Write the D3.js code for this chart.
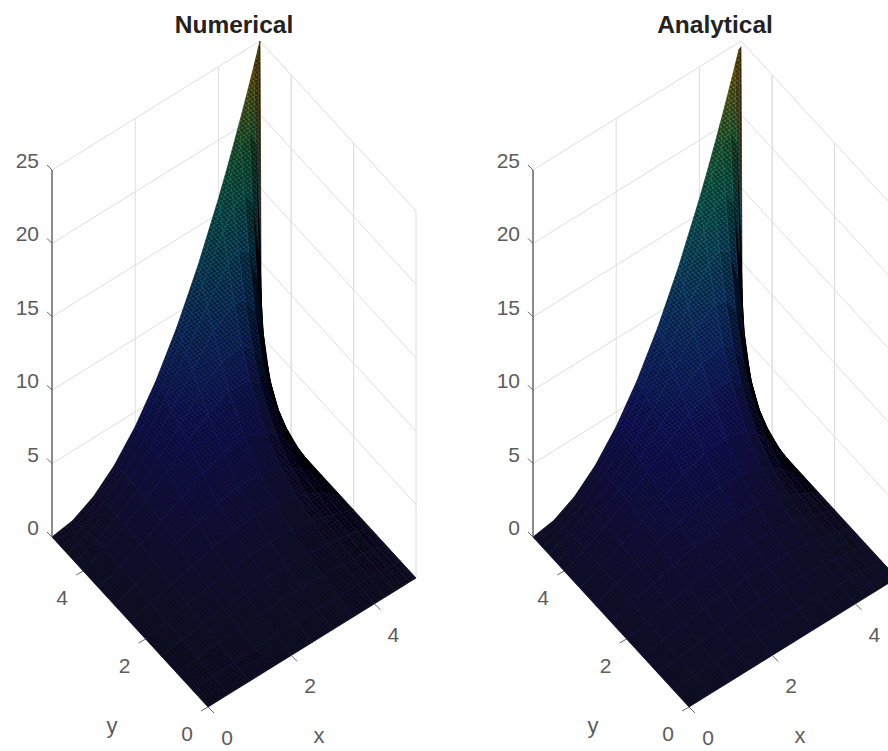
<!DOCTYPE html>
<html>
<head>
<meta charset="utf-8">
<title>Numerical and Analytical surfaces</title>
<script src="https://d3js.org/d3.v7.min.js"></script>
<style>
    body { margin: 0; background: #fff; overflow: hidden; }
    text { font-family: "Liberation Sans", Arial, sans-serif; fill: #5c5c5c; }
</style>
</head>
<body>
<script>

// Mesh positions on the x and y axes (tighter toward the spike)
var gridX = [0, 0.5, 1, 1.5, 2, 2.5, 3, 3.5, 4, 4.25, 4.5, 4.7, 4.85, 4.95, 5];
var gridY = [0, 0.5, 1, 1.5, 2, 2.5, 3, 3.5, 4, 4.25, 4.5, 4.7, 4.85, 4.95, 5];

// Surface height, one row per gridY value, one column per gridX value
var zValues = [
    [0, 0, 0, 0, 0, 0, 0, 0, 0, 0, 0, 0, 0, 0, 0],
    [0, .07, .14, .19, .24, .26, .26, .23, .17, .14, .09, .06, .03, .01, 0],
    [0, .14, .28, .40, .49, .55, .55, .49, .37, .29, .20, .12, .06, .02, 0],
    [0, .22, .44, .63, .79, .89, .90, .82, .62, .49, .34, .21, .10, .03, 0],
    [0, .31, .62, .90, 1.14, 1.31, 1.35, 1.25, .97, .77, .53, .32, .16, .05, 0],
    [0, .41, .82, 1.22, 1.57, 1.84, 1.96, 1.86, 1.48, 1.18, .83, .51, .26, .09, 0],
    [0, .51, 1.04, 1.57, 2.09, 2.53, 2.80, 2.76, 2.29, 1.87, 1.32, .82, .41, .14, 0],
    [0, .60, 1.23, 1.93, 2.67, 3.38, 3.93, 4.11, 3.63, 3.04, 2.21, 1.39, .71, .24, 0],
    [0, .63, 1.36, 2.24, 3.26, 4.37, 5.41, 6.12, 5.97, 5.28, 4.05, 2.63, 1.36, .46, 0],
    [0, .62, 1.39, 2.36, 3.56, 4.91, 6.30, 7.44, 7.73, 7.16, 5.75, 3.87, 2.04, .70, 0],
    [0, .57, 1.34, 2.41, 3.77, 5.42, 7.21, 8.95, 10.03, 9.85, 8.59, 6.22, 3.46, 1.19, 0],
    [0, .48, 1.25, 2.40, 3.91, 5.78, 7.95, 10.26, 12.25, 12.74, 12.19, 9.93, 6.10, 2.21, 0],
    [0, .39, 1.14, 2.35, 3.97, 6.03, 8.49, 11.27, 14.09, 15.30, 15.91, 14.89, 11.14, 4.67, 0],
    [0, .31, 1.04, 2.29, 4.00, 6.17, 8.83, 11.93, 15.35, 17.13, 18.77, 19.53, 18.47, 12.02, 0],
    [0, .25, 1, 2.25, 4, 6.25, 9, 12.25, 16, 18.06, 20.25, 22.09, 23.52, 24.5, 25]
];

var titles = ["Numerical", "Analytical"];
var peaks = [25, 24.6];
var meshLines = [1.0, 0.9];
var xyTicks = [0, 2, 4];
var zTicks = [0, 5, 10, 15, 20, 25];
var wallTicks = [2, 4];

var colorStops = [0, 4, 8, 12, 16, 20, 23, 25];
var colorRange = ["#2a268c", "#2a26d8", "#1a60f0", "#1898e0", "#18c8b4", "#58d060", "#ffcc30", "#ffc820"];

var width = 888, height = 751;
var meshStep = 0.05;   // spacing of the original mesh lines, sets how dark a cell looks

var svg = d3.select("body").append("svg")
    .attr("width", width)
    .attr("height", height);

var defs = svg.append("defs");
var color = d3.scaleLinear().domain(colorStops).range(colorRange);

defs.append("filter").attr("id", "soft")
    .attr("x", "-5%").attr("y", "-5%").attr("width", "110%").attr("height", "110%")
    .append("feGaussianBlur").attr("stdDeviation", 0.5);

// Oblique projection: each axis adds its own screen offset
var xH = d3.scaleLinear().domain([0, 5]).range([0, 208]);
var xV = d3.scaleLinear().domain([0, 5]).range([0, -129]);
var yH = d3.scaleLinear().domain([0, 5]).range([0, -156]);
var yV = d3.scaleLinear().domain([0, 5]).range([0, -170]);
var zV = d3.scaleLinear().domain([0, 25]).range([0, -367]);

// Fine dark lattice along the floor axes, stands in for the dense mesh lines
var latticeStep = meshStep * 1.5;
var lattice = defs.append("pattern")
    .attr("id", "lattice")
    .attr("patternUnits", "userSpaceOnUse")
    .attr("width", 1)
    .attr("height", 1)
    .attr("patternTransform", "matrix(" + [
        xH(latticeStep), xV(latticeStep) , yH(latticeStep), yV(latticeStep), 0, 0
    ].join(",") + ")");
lattice.append("path")
    .attr("d", "M0,0H1M0,1H1M0,0V1M1,0V1")
    .attr("fill", "none")
    .attr("stroke", "#000")
    .attr("stroke-opacity", 0.55)
    .attr("stroke-width", 0.4);

function drawPanel(title, index) {
    var ox = 208 + 481 * index, oy = 707;
    var g = svg.append("g");

    function px(x, y, z) {
        return [ox + xH(x) + yH(y), oy + xV(x) + yV(y) + zV(z)];
    }
    function line(a, b, stroke, w) {
        g.append("line")
            .attr("x1", a[0]).attr("y1", a[1])
            .attr("x2", b[0]).attr("y2", b[1])
            .attr("stroke", stroke)
            .attr("stroke-width", w);
    }

    // Back walls
    zTicks.forEach(function(z) {
        if (z == 0) return;
        line(px(0, 5, z), px(5, 5, z), "#dedede", 1);
        line(px(5, 5, z), px(5, 0, z), "#dedede", 1);
    });
    wallTicks.forEach(function(t) {
        line(px(t, 5, 0), px(t, 5, 25), "#dedede", 1);
    });
    xyTicks.concat(wallTicks).forEach(function(t) {
        line(px(5, t, 0), px(5, t, 25), "#dedede", 1);
    });

    // Surface, far corner first so the near cells paint over it
    var surface = g.append("g").attr("filter", "url(#soft)");
    var k = 0;
    for (var j = gridY.length - 2; j >= 0; j--) {
        for (var i = gridX.length - 2; i >= 0; i--) {
            var cell = [[i, j], [i + 1, j], [i + 1, j + 1], [i, j + 1]].map(function(c) {
                var z = zValues[c[1]][c[0]];
                if (c[0] == 14 && c[1] == 14) z = peaks[index];
                return { z: z, p: px(gridX[c[0]], gridY[c[1]], z) };
            });
            var pts = cell.map(function(c) { return c.p; });
            var low = d3.least(cell, function(c) { return c.z; });
            var high = d3.greatest(cell, function(c) { return c.z; });

            // Mesh lines eat into the colour where they bunch up on screen
            var ex = [(pts[1][0] - pts[0][0] + pts[2][0] - pts[3][0]) / 2, (pts[1][1] - pts[0][1] + pts[2][1] - pts[3][1]) / 2];
            var ey = [(pts[3][0] - pts[0][0] + pts[2][0] - pts[1][0]) / 2, (pts[3][1] - pts[0][1] + pts[2][1] - pts[1][1]) / 2];
            var area = Math.abs(ex[0] * ey[1] - ex[1] * ey[0]);
            var nx = (gridX[i + 1] - gridX[i]) / meshStep;
            var ny = (gridY[j + 1] - gridY[j]) / meshStep;
            var spaceA = area / Math.hypot(ex[0], ex[1]) / ny;
            var spaceB = area / Math.hypot(ey[0], ey[1]) / nx;
            var w = meshLines[index];
            var gap = Math.max(0, 1 - w / spaceA) * Math.max(0, 1 - w / spaceB);
            var shade = 1 - gap;

            var id = "c" + index + "_" + (k++);
            var grad = defs.append("linearGradient")
                .attr("id", id)
                .attr("gradientUnits", "userSpaceOnUse")
                .attr("x1", low.p[0]).attr("y1", low.p[1])
                .attr("x2", high.p[0]).attr("y2", high.p[1] + 0.01);
            grad.append("stop").attr("offset", 0).attr("stop-color", d3.interpolateRgb(color(low.z), "#000")(shade));
            grad.append("stop").attr("offset", 1).attr("stop-color", d3.interpolateRgb(color(high.z), "#000")(shade));

            surface.append("polygon")
                .attr("points", pts.join(" "))
                .attr("fill", "url(#" + id + ")")
                .attr("stroke", "url(#" + id + ")")
                .attr("stroke-width", 0.8)
                .attr("stroke-linejoin", "round");
            surface.append("polygon")
                .attr("points", pts.join(" "))
                .attr("fill", "url(#lattice)");
        }
    }

    // z axis and its ticks
    line(px(0, 5, 0), px(0, 5, 25), "#666", 1.5);
    zTicks.forEach(function(z) {
        var p = px(0, 5, z);
        line(p, [p[0] - 5, p[1] - 5], "#666", 1);
        g.append("text")
            .attr("x", p[0] - 13)
            .attr("y", p[1] - 2)
            .attr("text-anchor", "end")
            .attr("font-size", 21)
            .text(z);
    });

    // x and y ticks on the floor
    xyTicks.forEach(function(t) {
        var a = px(t, 0, 0);
        line(a, [a[0] + 6, a[1] + 6], "#666", 1);
        g.append("text")
            .attr("x", a[0] + 19)
            .attr("y", a[1] + 38)
            .attr("text-anchor", "middle")
            .attr("font-size", 21)
            .text(t);

        var b = px(0, t, 0);
        line(b, [b[0] - 7, b[1] + 4], "#666", 1);
        g.append("text")
            .attr("x", b[0] - 21)
            .attr("y", b[1] + 34)
            .attr("text-anchor", "middle")
            .attr("font-size", 21)
            .text(t);
    });

    g.append("text")
        .attr("x", ox + 111)
        .attr("y", oy + 36)
        .attr("text-anchor", "middle")
        .attr("font-size", 22)
        .text("x");
    g.append("text")
        .attr("x", ox - 96)
        .attr("y", oy + 26)
        .attr("text-anchor", "middle")
        .attr("font-size", 22)
        .text("y");

    g.append("text")
        .attr("x", ox + 26)
        .attr("y", 33)
        .attr("text-anchor", "middle")
        .attr("font-size", 24.5)
        .attr("font-weight", "bold")
        .style("fill", "#222")
        .text(title);
}

titles.forEach(drawPanel);

</script>
</body>
</html>
